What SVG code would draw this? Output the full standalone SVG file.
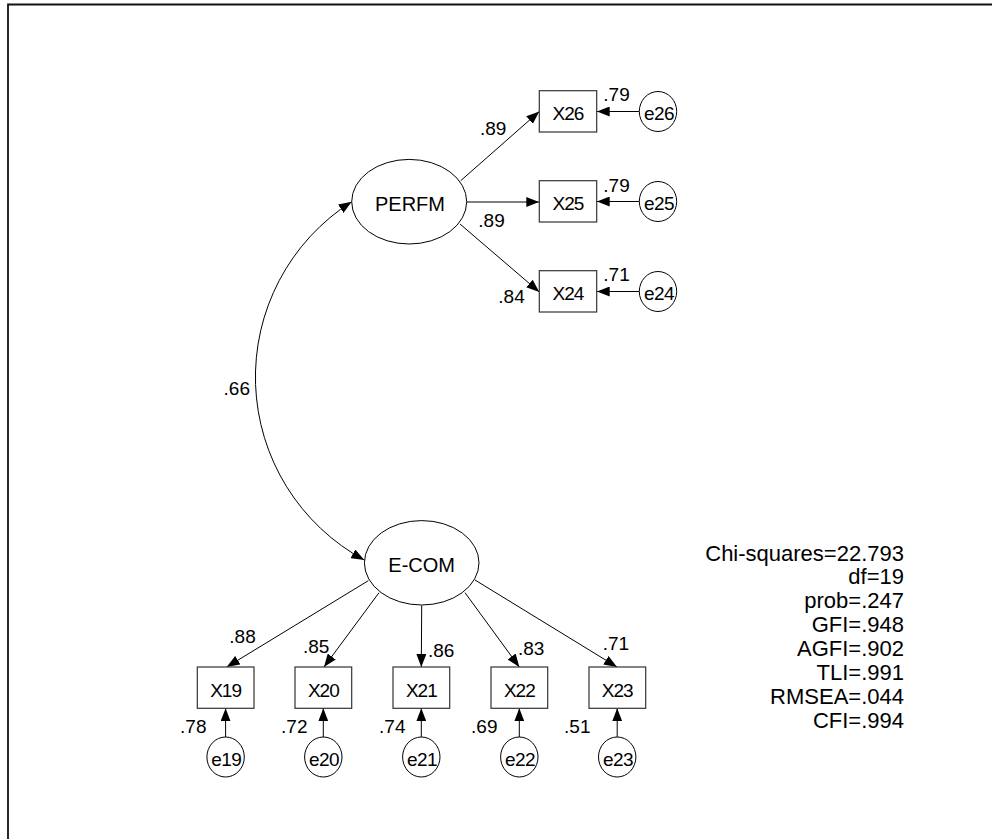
<svg xmlns="http://www.w3.org/2000/svg" width="992" height="839" viewBox="0 0 992 839">
<style>
text{font-family:"Liberation Sans",Arial,sans-serif;fill:#000}
.nm{font-size:20px;text-anchor:middle}
.obs{font-size:19px;text-anchor:middle;letter-spacing:-1px}
.err{font-size:19px;text-anchor:middle;letter-spacing:-0.5px}
.lb{font-size:19px}
.lbe{font-size:19px;text-anchor:end}
.st{font-size:22px;text-anchor:end}
.shape{fill:#fff;stroke:#000;stroke-width:1}
.box{fill:#fff;stroke:#333;stroke-width:1.2}
.ln{fill:none;stroke:#000;stroke-width:1;marker-end:url(#ah)}
</style>
<defs>
<marker id="ah" viewBox="0 0 13 10" refX="13" refY="5" markerWidth="13" markerHeight="10" markerUnits="userSpaceOnUse" orient="auto-start-reverse">
<path d="M0,0 L13,5 L0,10 z" fill="#000"/>
</marker>
</defs>
<rect width="992" height="839" fill="#fff"/>
<path d="M8,839 V4.5 H992" fill="none" stroke="#111" stroke-width="1.8"/>

<g id="connectors">
<path class="ln" d="M351.7,201.7 A208 208 0 0 0 364.3,560" style="marker-start:url(#ah)"/>
<line class="ln" x1="460.7" y1="180.7" x2="539.3" y2="111.5"/>
<line class="ln" x1="467" y1="202" x2="539.3" y2="202"/>
<line class="ln" x1="460" y1="224" x2="539.3" y2="292"/>
<line class="ln" x1="639.3" y1="111.5" x2="596.7" y2="111.5"/>
<line class="ln" x1="639.3" y1="201.5" x2="596.7" y2="201.5"/>
<line class="ln" x1="639.3" y1="291.5" x2="596.7" y2="291.5"/>
<line class="ln" x1="368.3" y1="580.7" x2="226.7" y2="667"/>
<line class="ln" x1="379" y1="592.7" x2="324" y2="667"/>
<line class="ln" x1="421.7" y1="605.5" x2="421.3" y2="667"/>
<line class="ln" x1="465" y1="592.7" x2="519.3" y2="667"/>
<line class="ln" x1="475" y1="580" x2="617" y2="667"/>
<line class="ln" x1="225.6" y1="737" x2="225.6" y2="708.3"/>
<line class="ln" x1="323.3" y1="737" x2="323.3" y2="708.3"/>
<line class="ln" x1="421.3" y1="737" x2="421.3" y2="708.3"/>
<line class="ln" x1="519.3" y1="737" x2="519.3" y2="708.3"/>
<line class="ln" x1="617.2" y1="737" x2="617.2" y2="708.3"/>
</g>

<g id="PERFM"><ellipse class="shape" cx="409.2" cy="201.7" rx="57.5" ry="42.3"/><text class="nm" x="410" y="211.3">PERFM</text></g>
<g id="ECOM"><ellipse class="shape" cx="421.7" cy="562.8" rx="57.3" ry="42.2"/><text class="nm" x="421.7" y="571.5">E-COM</text></g>

<g id="X26"><rect class="box" x="539.3" y="90.7" width="57.4" height="41.3"/><text class="obs" x="568" y="120">X26</text></g>
<g id="X25"><rect class="box" x="539.3" y="180.7" width="57.4" height="41.3"/><text class="obs" x="568" y="210">X25</text></g>
<g id="X24"><rect class="box" x="539.3" y="270.7" width="57.4" height="41.3"/><text class="obs" x="568" y="300">X24</text></g>

<g id="e26"><ellipse class="shape" cx="658" cy="111.5" rx="18.7" ry="20"/><text class="err" x="659" y="120">e26</text></g>
<g id="e25"><ellipse class="shape" cx="658" cy="201.5" rx="18.7" ry="20"/><text class="err" x="659" y="210">e25</text></g>
<g id="e24"><ellipse class="shape" cx="658" cy="291.5" rx="18.7" ry="20"/><text class="err" x="659" y="300">e24</text></g>

<g id="X19"><rect class="box" x="197.3" y="667" width="56.7" height="41.3"/><text class="obs" x="225.6" y="696.5">X19</text></g>
<g id="X20"><rect class="box" x="295" y="667" width="56.7" height="41.3"/><text class="obs" x="323.3" y="696.5">X20</text></g>
<g id="X21"><rect class="box" x="393" y="667" width="56.7" height="41.3"/><text class="obs" x="421.3" y="696.5">X21</text></g>
<g id="X22"><rect class="box" x="491" y="667" width="56.7" height="41.3"/><text class="obs" x="519.3" y="696.5">X22</text></g>
<g id="X23"><rect class="box" x="589" y="667" width="56.7" height="41.3"/><text class="obs" x="617.2" y="696.5">X23</text></g>

<g id="e19"><ellipse class="shape" cx="225.6" cy="757" rx="18.7" ry="20"/><text class="err" x="226.3" y="765.5">e19</text></g>
<g id="e20"><ellipse class="shape" cx="323.3" cy="757" rx="18.7" ry="20"/><text class="err" x="324" y="765.5">e20</text></g>
<g id="e21"><ellipse class="shape" cx="421.3" cy="757" rx="18.7" ry="20"/><text class="err" x="422" y="765.5">e21</text></g>
<g id="e22"><ellipse class="shape" cx="519.3" cy="757" rx="18.7" ry="20"/><text class="err" x="520" y="765.5">e22</text></g>
<g id="e23"><ellipse class="shape" cx="617.2" cy="757" rx="18.7" ry="20"/><text class="err" x="618" y="765.5">e23</text></g>

<g id="labels">
<text class="lbe" x="250" y="395">.66</text>
<text class="lb" x="480" y="135">.89</text>
<text class="lb" x="478.3" y="227.3">.89</text>
<text class="lb" x="498.3" y="303.3">.84</text>
<text class="lb" x="603.3" y="101">.79</text>
<text class="lb" x="603.3" y="191.7">.79</text>
<text class="lb" x="603.3" y="281">.71</text>
<text class="lb" x="229.3" y="643">.88</text>
<text class="lb" x="303" y="653">.85</text>
<text class="lb" x="428" y="656.7">.86</text>
<text class="lb" x="518" y="655">.83</text>
<text class="lb" x="602.7" y="650">.71</text>
<text class="lbe" x="206.5" y="733">.78</text>
<text class="lbe" x="307.5" y="733">.72</text>
<text class="lbe" x="405.5" y="733">.74</text>
<text class="lbe" x="497.5" y="733">.69</text>
<text class="lbe" x="590.5" y="733">.51</text>
</g>

<g id="stats">
<text class="st" x="904" y="560.5">Chi-squares=22.793</text>
<text class="st" x="904" y="584.4">df=19</text>
<text class="st" x="904" y="608.3">prob=.247</text>
<text class="st" x="904" y="632.2">GFI=.948</text>
<text class="st" x="904" y="656.1">AGFI=.902</text>
<text class="st" x="904" y="680">TLI=.991</text>
<text class="st" x="904" y="703.9">RMSEA=.044</text>
<text class="st" x="904" y="727.8">CFI=.994</text>
</g>
</svg>
